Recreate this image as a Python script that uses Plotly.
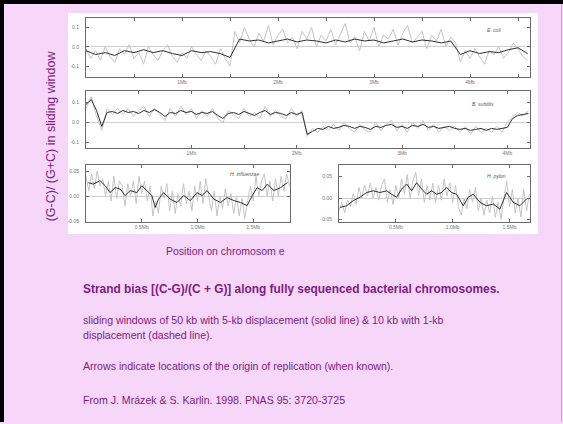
import numpy as np
import plotly.graph_objects as go

W, H = 563, 424

# ---------------- data ----------------
# E. coli (kb positions, skew values)
ecoli_solid_step = 100
ecoli_solid = [-0.02, -0.04, -0.03, -0.045, -0.02, -0.03, -0.015, -0.03, -0.02, -0.035,
               -0.045, -0.02, -0.03, -0.025, -0.035, -0.055, 0.04, 0.03, 0.035, 0.02,
               0.03, 0.04, 0.025, 0.035, 0.03, 0.02, 0.035, 0.025, 0.04, 0.03,
               0.035, 0.02, 0.03, 0.04, 0.025, 0.035, 0.03, 0.02, 0.03, -0.04,
               -0.02, -0.035, -0.025, -0.03, -0.015, -0.005, -0.035]
ecoli_gray_step = 50
ecoli_gray = [-0.01, -0.06, -0.02, -0.07, 0.0, -0.05, -0.08, -0.01, -0.04, 0.01,
              -0.06, -0.03, -0.09, 0.0, -0.04, -0.07, -0.02, 0.01, -0.05, -0.08,
              -0.03, -0.06, 0.0, -0.04, -0.07, -0.02, -0.05, -0.09, -0.01, -0.06, -0.10,
              0.08, 0.02, 0.10, 0.04, 0.0, 0.07, 0.03, 0.11, 0.01, 0.06,
              0.09, 0.02, 0.05, -0.01, 0.08, 0.04, 0.10, 0.0, 0.06, 0.03,
              0.09, 0.01, 0.07, 0.12, 0.02, 0.05, -0.02, 0.08, 0.03, 0.10,
              0.0, 0.06, 0.04, 0.09, 0.01, 0.07, 0.11, 0.02, 0.05, 0.08,
              -0.01, 0.06, 0.03, 0.09, 0.0, 0.05, 0.02,
              -0.08, -0.02, -0.06, -0.01, -0.05, -0.09, -0.02, -0.04, 0.0, -0.06,
              -0.03, 0.02, -0.01, -0.05, -0.07]

# B. subtilis
bsub_step = 50
bsub_solid = [0.09, 0.115, 0.06, -0.02, 0.05, 0.055, 0.045, 0.06, 0.05, 0.055,
              0.045, 0.06, 0.05, 0.065, 0.05, 0.03, 0.05, 0.045, 0.06, 0.05,
              0.055, 0.04, 0.05, 0.045, 0.055, 0.035, 0.02, 0.045, 0.05, 0.04,
              0.055, 0.045, 0.035, 0.05, 0.06, 0.04, 0.05, 0.045, 0.035, 0.05,
              0.04, 0.05, -0.06, -0.045, -0.03, -0.035, -0.02, -0.03, -0.025, -0.015,
              -0.02, -0.03, -0.02, -0.025, -0.035, -0.02, -0.025, -0.015, -0.01, -0.025,
              -0.02, -0.03, -0.015, -0.02, -0.01, -0.025, -0.02, -0.03, -0.025, -0.02,
              -0.03, -0.035, -0.03, -0.04, -0.035, -0.03, -0.04, -0.03, -0.035, -0.03,
              -0.025, 0.02, 0.035, 0.04, 0.045]
bsub_gray = [0.07, 0.13, 0.03, -0.04, 0.07, 0.04, 0.07, 0.04, 0.07, 0.03,
             0.06, 0.08, 0.03, 0.07, 0.04, 0.01, 0.07, 0.03, 0.08, 0.04,
             0.07, 0.02, 0.06, 0.03, 0.07, 0.02, 0.0, 0.06, 0.04, 0.02,
             0.07, 0.03, 0.05, 0.02, 0.08, 0.03, 0.06, 0.03, 0.02, 0.07,
             0.03, 0.06, -0.07, -0.03, -0.05, -0.02, -0.04, -0.01, -0.04, 0.0,
             -0.03, -0.05, -0.01, -0.04, -0.05, 0.0, -0.04, -0.01, 0.01, -0.04,
             -0.01, -0.05, 0.0, -0.03, 0.01, -0.04, -0.01, -0.05, -0.02, -0.04,
             -0.02, -0.05, -0.02, -0.06, -0.02, -0.05, -0.03, -0.05, -0.02, -0.05,
             0.0, 0.03, 0.05, 0.03, 0.06]

# H. influenzae
hinf_solid_x = [21, 66, 126, 171, 216, 261, 306, 351, 396, 456, 501, 546, 591, 621, 651,
                696, 756, 816, 876, 936, 996, 1041, 1086, 1146, 1206, 1266, 1326, 1386,
                1446, 1491, 1536, 1581, 1626, 1686, 1746, 1806]
hinf_solid = [0.027, 0.024, 0.031, 0.021, 0.007, 0.017, 0.014, 0.001, 0.011, 0.007, 0.021,
              0.011, 0.001, -0.023, -0.006, 0.007, -0.006, -0.013, 0.001, -0.009, 0.007,
              0.001, 0.011, -0.006, -0.013, -0.003, -0.009, -0.013, -0.019, 0.001, 0.017,
              0.011, 0.024, 0.011, 0.017, 0.027]
hinf_gray_step = 25
hinf_gray = [0.04, 0.01, 0.045, 0.015, 0.05, 0.02, 0.035, 0.0, 0.03, -0.01,
             0.04, -0.005, 0.03, 0.02, -0.02, 0.025, 0.0, 0.03, -0.015, 0.04,
             0.005, 0.03, -0.01, 0.02, -0.04, -0.01, -0.035, 0.02, -0.005, 0.025,
             -0.03, 0.01, -0.035, 0.005, -0.02, 0.025, -0.015, 0.01, -0.03, 0.02,
             -0.01, 0.03, -0.015, 0.035, 0.0, -0.03, 0.01, -0.04, 0.0, -0.025,
             0.015, -0.02, 0.005, -0.035, 0.0, -0.04, -0.005, -0.045, -0.01, 0.02,
             -0.01, 0.04, 0.0, 0.03, 0.045, 0.0, 0.03, -0.01, 0.035, 0.0,
             0.04, 0.01, 0.045, 0.02]

# H. pylori
hpyl_solid_x = [9, 67, 126, 185, 243, 302, 360, 419, 463, 507, 551, 595, 639, 683, 727,
                771, 815, 858, 902, 946, 990, 1034, 1093, 1137, 1181, 1239, 1298, 1357,
                1415, 1474, 1532, 1591, 1650]
hpyl_solid = [-0.022, -0.018, -0.006, 0.002, 0.013, 0.017, 0.013, 0.017, 0.009, 0.002,
              0.021, 0.033, 0.017, 0.036, 0.021, 0.009, 0.017, 0.009, 0.013, 0.025,
              0.013, 0.009, -0.018, 0.002, 0.009, -0.010, -0.018, -0.014, -0.026, 0.013,
              -0.010, -0.018, -0.002]
hpyl_gray_step = 25
hpyl_gray = [-0.03, -0.01, -0.035, -0.005, -0.02, 0.01, -0.015, 0.025, 0.0, 0.03,
             0.005, 0.035, 0.0, 0.025, -0.005, 0.03, 0.045, -0.01, 0.02, -0.015,
             0.03, 0.0, 0.045, 0.01, 0.055, 0.0, 0.04, 0.06, 0.005, 0.045,
             -0.01, 0.03, -0.005, 0.035, -0.01, 0.03, -0.005, 0.045, 0.005, 0.035,
             -0.01, 0.03, -0.02, -0.04, 0.0, -0.025, 0.02, -0.01, 0.025, -0.03,
             0.0, -0.04, -0.005, -0.035, 0.005, -0.045, -0.01, -0.05, 0.0, 0.04,
             -0.02, 0.02, -0.035, 0.0, -0.045, 0.02, -0.03, 0.01]

# tick labels
top_ytick_vals = [0.1, 0.0, -0.1]
top_ytick_text = ["0.1", "0.0", "-0.1"]
bot_ytick_vals = [0.05, 0.0, -0.05]
bot_ytick_text = ["0.05", "0.00", "-0.05"]
ecoli_xticks = [500, 1000, 1500, 2000, 2500, 3000, 3500, 4000, 4500]
ecoli_xtext = ["", "1Mb", "", "2Mb", "", "3Mb", "", "4Mb", ""]
bsub_xticks = [500, 1000, 1500, 2000, 2500, 3000, 3500, 4000]
bsub_xtext = ["", "1Mb", "", "2Mb", "", "3Mb", "", "4Mb"]
small_xticks = [500, 1000, 1500]
small_xtext = ["0.5Mb", "1.0Mb", "1.5Mb"]

# ---------------- figure ----------------
def fx(p):
    return p / W


def fy(p):
    return 1 - p / H


PURPLE = "#7e1b80"
BG = "#f6d7fa"
SOLID = "#2e2e2e"
GRAY = "#c4c4c4"

fig = go.Figure()

panels = [
    ("1", np.arange(len(ecoli_solid)) * ecoli_solid_step, ecoli_solid,
     np.arange(len(ecoli_gray)) * ecoli_gray_step, ecoli_gray,
     [0, 4625], [-0.154, 0.149], (86, 530, 18, 77), ecoli_xticks, ecoli_xtext,
     top_ytick_vals, top_ytick_text),
    ("2", np.arange(len(bsub_solid)) * bsub_step, bsub_solid,
     np.arange(len(bsub_gray)) * bsub_step, bsub_gray,
     [0, 4215], [-0.13, 0.16], (86, 530, 91, 149), bsub_xticks, bsub_xtext,
     top_ytick_vals, top_ytick_text),
    ("3", hinf_solid_x, hinf_solid,
     np.arange(len(hinf_gray)) * hinf_gray_step, hinf_gray,
     [0, 1830], [-0.052, 0.062], (86, 290, 166, 223), small_xticks, small_xtext,
     bot_ytick_vals, bot_ytick_text),
    ("4", hpyl_solid_x, hpyl_solid,
     np.arange(len(hpyl_gray)) * hpyl_gray_step, hpyl_gray,
     [0, 1680], [-0.056, 0.077], (339, 530, 166, 223), small_xticks, small_xtext,
     bot_ytick_vals, bot_ytick_text),
]

tickfont = dict(size=5, color="#777777", family="Liberation Sans")
layout_axes = {}
for (n, sx, sy, gx, gy, xr, yr, fr, xtv, xtt, ytv, ytt) in panels:
    xa = "x" if n == "1" else "x" + n
    ya = "y" if n == "1" else "y" + n
    fig.add_trace(go.Scatter(x=gx, y=gy, mode="lines", xaxis=xa, yaxis=ya,
                             line=dict(color=GRAY, width=1), hoverinfo="skip",
                             showlegend=False))
    fig.add_trace(go.Scatter(x=sx, y=sy, mode="lines", xaxis=xa, yaxis=ya,
                             line=dict(color=SOLID, width=1), hoverinfo="skip",
                             showlegend=False))
    l, r, t, b = fr
    key = "" if n == "1" else n
    layout_axes["xaxis" + key] = dict(
        domain=[fx(l), fx(r)], range=xr, anchor=ya, showline=True, linecolor="#6a6a6a",
        linewidth=1, mirror="allticks", ticks="inside", ticklen=3, tickcolor="#6a6a6a",
        tickvals=xtv, ticktext=xtt, tickfont=tickfont, showgrid=False, zeroline=False,
        fixedrange=True)
    layout_axes["yaxis" + key] = dict(
        domain=[fy(b), fy(t)], range=yr, anchor=xa, showline=True, linecolor="#6a6a6a",
        linewidth=1, mirror="allticks", ticks="inside", ticklen=3, tickcolor="#6a6a6a",
        tickvals=ytv, ticktext=ytt, tickfont=tickfont, showgrid=False, zeroline=True,
        zerolinecolor="#cfcfcf", zerolinewidth=1, ticklabelstandoff=5, fixedrange=True)

fig.update_layout(**layout_axes)

shapes = [
    dict(type="rect", xref="paper", yref="paper", x0=fx(68), x1=fx(538), y0=fy(235), y1=fy(13),
         fillcolor="white", line=dict(width=0), layer="below"),
    # slide border (left / top black, faint right edge)
    dict(type="rect", xref="paper", yref="paper", x0=0, x1=fx(4), y0=0, y1=1,
         fillcolor="#000000", line=dict(width=0), layer="below"),
    dict(type="rect", xref="paper", yref="paper", x0=0, x1=1, y0=fy(4), y1=1,
         fillcolor="#000000", line=dict(width=0), layer="below"),
    dict(type="rect", xref="paper", yref="paper", x0=fx(561), x1=fx(562), y0=0, y1=fy(4),
         fillcolor="#c6a9c9", line=dict(width=0), layer="below"),
]

ann = []


def txt(x, y, s, size, bold=False, anchor="left", color=PURPLE, angle=0, italic=False,
        family="Liberation Sans"):
    if bold:
        s = "<b>" + s + "</b>"
    if italic:
        s = "<i>" + s + "</i>"
    ann.append(dict(x=fx(x), y=fy(y), xref="paper", yref="paper", text=s, showarrow=False,
                    xanchor=anchor, yanchor="middle", textangle=angle,
                    font=dict(size=size, color=color, family=family)))


# species labels
txt(485, 30, "E. coli", 5, italic=True, color="#555555")
txt(470, 104, "B. subtilis", 5, italic=True, color="#555555")
txt(228, 175, "H. influenzae", 5, italic=True, color="#555555")
txt(485, 177, "H. pylori", 5, italic=True, color="#555555")

txt(51, 137, "(G-C)/ (G+C) in sliding window", 12.5, anchor="center", angle=-90)
txt(164, 252, "Position on chromosom e", 10.5)
txt(81, 290, "Strand bias [(C-G)/(C + G)] along fully sequenced bacterial chromosomes.", 11.9,
    bold=True)
txt(81, 322, "sliding windows of 50 kb with 5-kb displacement (solid line) &amp; 10 kb with 1-kb", 10.6)
txt(81, 337, "displacement (dashed line).", 10.6)
txt(81, 368, "Arrows indicate locations of the origin of replication (when known).", 10.6)
txt(81, 402, "From J. Mrázek &amp; S. Karlin. 1998. PNAS 95: 3720-3725", 10.6)

fig.update_layout(width=W, height=H, margin=dict(l=0, r=0, t=0, b=0),
                  paper_bgcolor=BG, plot_bgcolor="rgba(0,0,0,0)",
                  shapes=shapes, annotations=ann, showlegend=False)

fig.write_html("out.html", config={"displayModeBar": False, "staticPlot": True},
               post_script="document.body.style.margin='0';document.body.style.overflow='hidden';")
